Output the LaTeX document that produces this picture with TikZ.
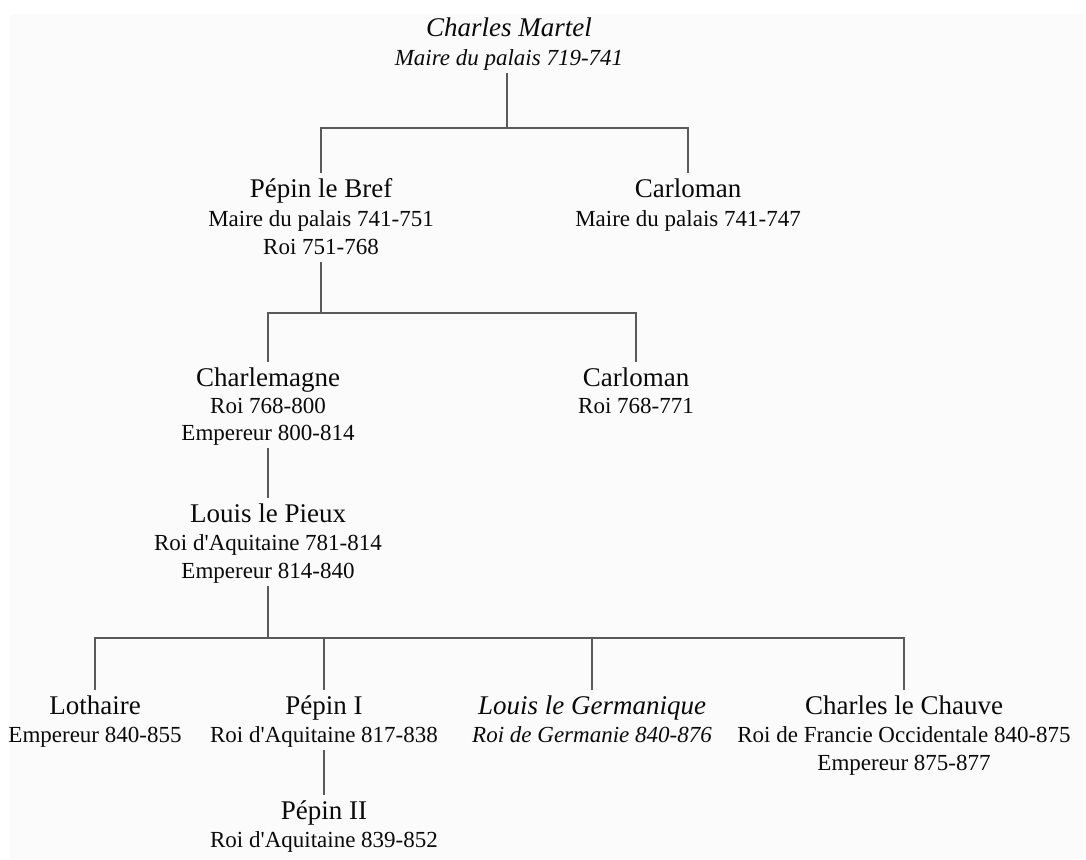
\documentclass[tikz,border=0pt]{standalone}
\usepackage{fontspec}
\setmainfont{Liberation Serif}[Ligatures=TeXOff]
\newcommand\nmfont{\fontsize{27}{30}\selectfont}
\newcommand\sbfont{\fontsize{23}{28}\selectfont}
\definecolor{linegray}{HTML}{5A5A5A}
\definecolor{txt}{HTML}{0A0A0A}
\definecolor{bgfill}{HTML}{FBFBFB}
\begin{document}
\begin{tikzpicture}[x=1pt,y=-1pt,
  nm/.style={font=\nmfont, text=txt, anchor=base, inner sep=0pt, text height=17pt, text depth=5pt, outer xsep=0pt, outer ysep=7pt},
  sb/.style={font=\sbfont, text=txt, anchor=base, inner sep=0pt, text height=15pt, text depth=5pt, outer xsep=0pt, outer ysep=3pt},
  link/.style={draw=linegray, line width=1.8pt}]
\useasboundingbox (0,0) rectangle (1086,859);
\fill[bgfill] (10,14) rectangle (1083,859);
% Charles Martel
\node[nm] (cm1) at (509,37) {\itshape Charles Martel};
\node[sb] (cm2) at (509,65) {\itshape Maire du palais 719-741};
\coordinate (j1) at (507,128);
% generation 2
\node[nm] (pb1) at (321,197) {Pépin le Bref};
\node[sb] (pb2) at (321,226) {Maire du palais 741-751};
\node[sb] (pb3) at (321,254) {Roi 751-768};
\node[nm] (cl1) at (688,197) {Carloman};
\node[sb] (cl2) at (688,226) {Maire du palais 741-747};
\coordinate (j2) at (321,313);
% generation 3
\node[nm] (ch1) at (268,386) {Charlemagne};
\node[sb] (ch2) at (268,413) {Roi 768-800};
\node[sb] (ch3) at (268,440) {Empereur 800-814};
\node[nm] (cr1) at (636,386) {Carloman};
\node[sb] (cr2) at (636,413) {Roi 768-771};
% Louis le Pieux
\node[nm] (lp1) at (268,522) {Louis le Pieux};
\node[sb] (lp2) at (268,550) {Roi d'Aquitaine 781-814};
\node[sb] (lp3) at (268,578) {Empereur 814-840};
\coordinate (j3) at (268,638);
% generation 5
\node[nm] (lo1) at (95,714) {Lothaire};
\node[sb] (lo2) at (95,742) {Empereur 840-855};
\node[nm] (pi1) at (324,714) {Pépin I};
\node[sb] (pi2) at (324,742) {Roi d'Aquitaine 817-838};
\node[nm] (lg1) at (592,714) {\itshape Louis le Germanique};
\node[sb] (lg2) at (592,742) {\itshape Roi de Germanie 840-876};
\node[nm] (cc1) at (904,714) {Charles le Chauve};
\node[sb] (cc2) at (904,742) {Roi de Francie Occidentale 840-875};
\node[sb] (cc3) at (904,770) {Empereur 875-877};
% Pepin II
\node[nm] (pp1) at (324,819) {Pépin II};
\node[sb] (pp2) at (324,847) {Roi d'Aquitaine 839-852};
% connectors
\draw[link] (cm2.south -| j1) -- (j1);
\draw[link] (pb1.north) |- (j1) -| (cl1.north);
\draw[link] (pb3.south) -- (pb3.south |- j2);
\draw[link] (ch1.north) |- (j2) -| (cr1.north);
\draw[link] (ch3.south) -- (lp1.north);
\draw[link] (lp3.south) -- (lp3.south |- j3);
\draw[link] (lo1.north) |- (j3) -| (cc1.north);
\draw[link] (pi1.north) -- (pi1.north |- j3);
\draw[link] (lg1.north) -- (lg1.north |- j3);
\draw[link] (pi2.south) -- (pp1.north);
\end{tikzpicture}
\end{document}
